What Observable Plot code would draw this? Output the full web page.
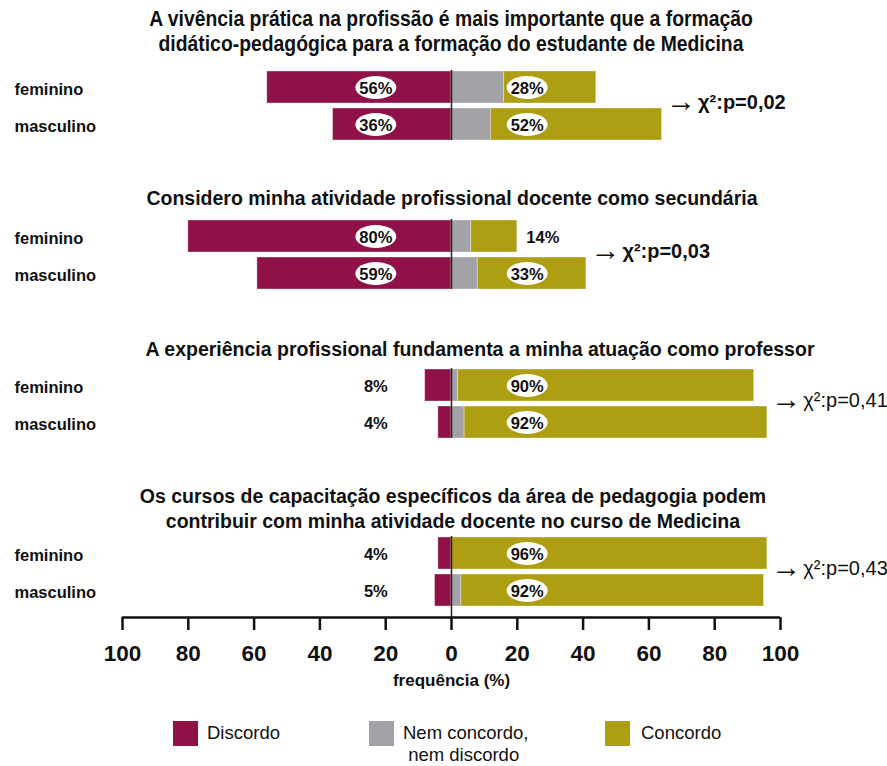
<!DOCTYPE html>
<html>
<head>
<meta charset="utf-8">
<script src="https://cdn.jsdelivr.net/npm/d3@7"></script>
<script src="https://cdn.jsdelivr.net/npm/@observablehq/plot@0.6"></script>
<style>
  html, body { margin: 0; padding: 0; background: #fff; }
  #chart { position: relative; width: 887px; height: 766px; overflow: hidden; font-family: "Liberation Sans", Arial, sans-serif; color: #111; }
  .title { position: absolute; left: 0; text-align: center; font-weight: bold; font-size: 19.5px; line-height: 25px; white-space: nowrap; }
  .narrow { font-size: 21.5px; }
  .plot { position: absolute; left: 0; }
  .plot svg { overflow: visible; }
  .sw { position: absolute; width: 25px; height: 25px; }
  .lg { position: absolute; font-size: 18.5px; line-height: 22px; white-space: nowrap; }
</style>
</head>
<body>
<div id="chart"></div>
<script>
// ---------------- data ----------------
const questions = [
  ["A vivência prática na profissão é mais importante que a formação", "didático-pedagógica para a formação do estudante de Medicina"],
  ["Considero minha atividade profissional docente como secundária"],
  ["A experiência profissional fundamenta a minha atuação como professor"],
  ["Os cursos de capacitação específicos da área de pedagogia podem", "contribuir com minha atividade docente no curso de Medicina"]
];
const genders = ["feminino", "masculino"];
// values per question: [feminino, masculino]
const discordo = [[56, 36], [80, 59], [8, 4], [4, 5]];
const neutro   = [[16, 12], [6, 8], [2, 4], [0, 3]];
const concordo = [[28, 52], [14, 33], [90, 92], [96, 92]];
const pValues = ["0,02", "0,03", "0,41", "0,43"];
const pBold = [true, true, false, false];
const categories = ["Discordo", "Nem concordo, nem discordo", "Concordo"];
const colors = ["#8f1147", "#a3a2a7", "#ae9e14"];
const xTicks = [-100, -80, -60, -40, -20, 0, 20, 40, 60, 80, 100];
const axisLabel = "frequência (%)";

// ---------------- layout ----------------
const W = 887;
const mL = 122, mR = 107;
const xDomain = [-100, 100];
const labelOffset = 23;      // label position (data units) from zero
const panelTops = [66, 215, 364, 532];
const titleLayout = [
  {top: 7, center: 451, narrow: true},
  {top: 186, center: 452, narrow: false},
  {top: 337, center: 480, narrow: false},
  {top: 484, center: 453, narrow: false}
];
const FONT = "'Liberation Sans', Arial, sans-serif";

const root = document.getElementById("chart");

// ellipse symbol for labels
const ellipse = {
  draw(ctx) {
    const rx = 20.5, ry = 11.5, k = 0.5523, kx = rx * k, ky = ry * k;
    ctx.moveTo(rx, 0);
    ctx.bezierCurveTo(rx, ky, kx, ry, 0, ry);
    ctx.bezierCurveTo(-kx, ry, -rx, ky, -rx, 0);
    ctx.bezierCurveTo(-rx, -ky, -kx, -ry, 0, -ry);
    ctx.bezierCurveTo(kx, -ry, rx, -ky, rx, 0);
    ctx.closePath();
  }
};

function panel(qi) {
  const segs = [];
  const inLabels = [], outLabels = [];
  let maxEnd = 0;
  genders.forEach((g, gi) => {
    const d = discordo[qi][gi], n = neutro[qi][gi], c = concordo[qi][gi];
    segs.push({gender: g, cat: categories[0], x1: -d, x2: 0});
    segs.push({gender: g, cat: categories[1], x1: 0, x2: n});
    segs.push({gender: g, cat: categories[2], x1: n, x2: n + c});
    maxEnd = Math.max(maxEnd, n + c);
    inLabels.push({gender: g, x: -labelOffset, text: d + "%", ellipse: d > labelOffset + 8});
    if (n + c > labelOffset + 8) inLabels.push({gender: g, x: labelOffset, text: c + "%", ellipse: true});
    else outLabels.push({gender: g, x: n + c, text: c + "%"});
  });
  const chi = [{x: maxEnd, p: pValues[qi]}];
  return Plot.plot({
    width: W, height: 78,
    marginLeft: mL, marginRight: mR, marginTop: 4, marginBottom: 4,
    x: {domain: xDomain, axis: null},
    y: {domain: genders, paddingInner: 0.14, paddingOuter: 0, axis: null},
    color: {domain: categories, range: colors},
    style: {fontFamily: FONT, color: "#111"},
    marks: [
      Plot.barX(segs, {y: "gender", x1: "x1", x2: "x2", fill: "cat", stroke: "#fff", strokeOpacity: 0.35, strokeWidth: 1}),
      Plot.ruleX([0], {stroke: "#222", strokeWidth: 1.5}),
      Plot.dot(inLabels.filter(d => d.ellipse), {x: "x", y: "gender", symbol: ellipse, r: 10, fill: "#fff", stroke: "none"}),
      Plot.text(inLabels, {x: "x", y: "gender", text: "text", fontWeight: "bold", fontSize: 16.5, fill: "#111", dy: 1}),
      Plot.text(outLabels, {x: "x", y: "gender", text: "text", fontWeight: "bold", fontSize: 16.5, fill: "#111", textAnchor: "start", dx: 9, dy: 1}),
      Plot.text(genders, {y: d => d, text: d => d, frameAnchor: "left", textAnchor: "start", dx: 14 - mL, dy: 2, fontWeight: "bold", fontSize: 16.5, fill: "#111"}),
      Plot.text(chi, {x: "x", text: () => "→", frameAnchor: "middle", textAnchor: "start", dx: 4, dy: -4, fontSize: 30, fill: "#111"}),
      Plot.text(chi, {x: "x", text: d => "χ²:p=" + d.p, frameAnchor: "middle", textAnchor: "start", dx: 36, dy: -3, fontSize: 20, fontWeight: pBold[qi] ? "bold" : "normal", fill: "#111"})
    ]
  });
}

questions.forEach((lines, qi) => {
  const L = titleLayout[qi];
  const t = document.createElement("div");
  t.className = "title" + (L.narrow ? " narrow" : "");
  t.style.top = L.top + "px";
  t.style.width = (2 * L.center) + "px";
  if (L.narrow) { t.style.transform = "scaleX(0.9)"; t.style.transformOrigin = L.center + "px 0"; }
  t.innerHTML = lines.map(l => `<div>${l}</div>`).join("");
  root.appendChild(t);

  const wrap = document.createElement("div");
  wrap.className = "plot";
  wrap.style.top = panelTops[qi] + "px";
  wrap.appendChild(panel(qi));
  root.appendChild(wrap);
});

// axis plot
const axisPlot = Plot.plot({
  width: W, height: 100,
  marginLeft: mL, marginRight: mR, marginTop: 0, marginBottom: 89,
  x: {domain: xDomain},
  y: {domain: [0, 1], axis: null},
  style: {fontFamily: FONT, color: "#111"},
  marks: [
    Plot.ruleX([0], {stroke: "#222", strokeWidth: 1.5}),
    Plot.ruleY([0], {x1: xDomain[0], x2: xDomain[1], stroke: "#111", strokeWidth: 2.5}),
    Plot.axisX({ticks: xTicks, tickFormat: d => Math.abs(d), tickSize: 13, tickPadding: 15, strokeWidth: 2.5, stroke: "#111",
      fontSize: 22.5, fontWeight: "bold", fill: "#111", label: null}),
    Plot.text([axisLabel], {frameAnchor: "bottom", dy: 68, fontSize: 17, fontWeight: "bold", fill: "#111"})
  ]
});
const aw = document.createElement("div");
aw.className = "plot";
aw.style.top = (panelTops[3] + 74) + "px";
aw.appendChild(axisPlot);
root.appendChild(aw);

// legend
const legendItems = [
  {x: 173, tx: 207, lines: ["Discordo"]},
  {x: 369, tx: 403, lines: ["Nem concordo,", "&nbsp;nem discordo"]},
  {x: 605, tx: 641, lines: ["Concordo"]}
];
legendItems.forEach((it, i) => {
  const s = document.createElement("div");
  s.className = "sw";
  s.style.left = it.x + "px"; s.style.top = "721px"; s.style.background = colors[i];
  root.appendChild(s);
  const l = document.createElement("div");
  l.className = "lg";
  l.style.left = it.tx + "px"; l.style.top = "722px";
  l.innerHTML = it.lines.join("<br>");
  root.appendChild(l);
});
</script>
</body>
</html>
